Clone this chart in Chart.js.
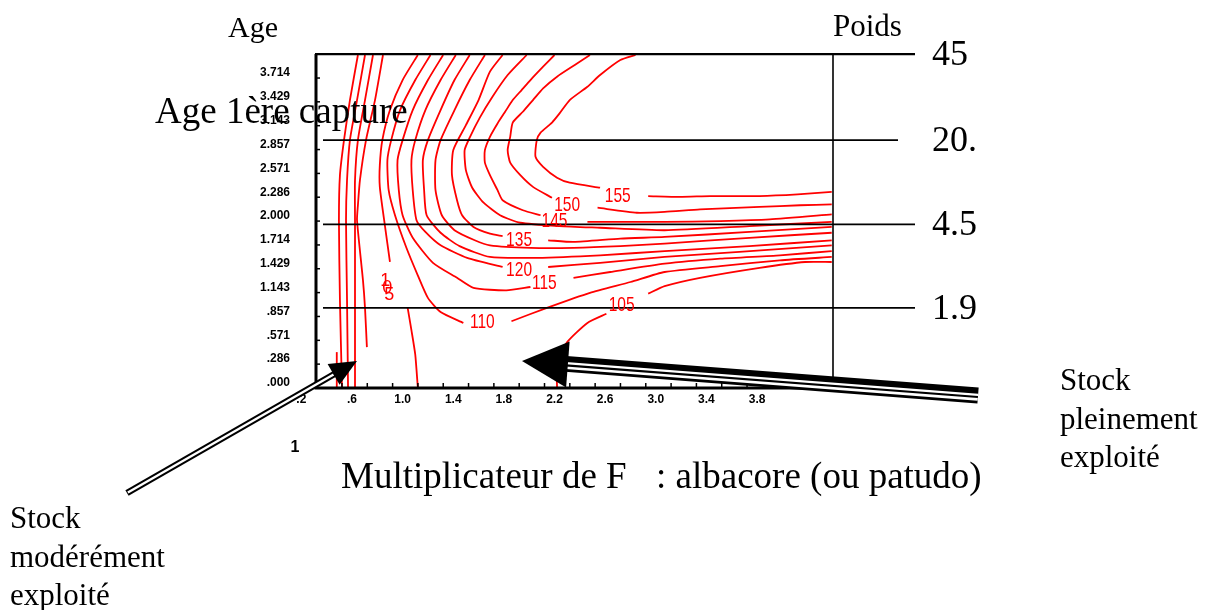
<!DOCTYPE html>
<html lang="fr">
<head>
<meta charset="UTF-8">
<title>Multiplicateur de F : albacore (ou patudo)</title>
<script src="https://cdn.jsdelivr.net/npm/chart.js"></script>
<style>
  body { margin: 0; background: #fff; }
  canvas { display: block; }
</style>
</head>
<body>
<canvas id="isoChart" width="1205" height="610"></canvas>
<script>
// axis ticks
const ageTicks = [0, 0.286, 0.571, 0.857, 1.143, 1.429, 1.714, 2.0, 2.286, 2.571, 2.857, 3.143, 3.429, 3.714];
const fTicks = [0.2, 0.6, 1.0, 1.4, 1.8, 2.2, 2.6, 3.0, 3.4, 3.8];

// weight scale on the right (age -> kg)
const weightLabels = ['45', '20.', '4.5', '1.9'];
const weightAges = [3.94, 2.91, 1.90, 0.90];

// isopleths, [F multiplier, age at first capture]
const lg0 = [[0.48, 0.37], [0.48, -0.05]];
const lg1 = [[0.647, 3.93], [0.584, 3.39], [0.537, 2.91], [0.505, 2.49], [0.497, 1.95], [0.505, 0.99], [0.521, -0.05]];
const lg2 = [[0.703, 3.93], [0.640, 3.39], [0.584, 2.91], [0.561, 2.43], [0.553, 1.95], [0.561, 0.99], [0.569, -0.05]];
const lg3 = [[0.766, 3.93], [0.703, 3.39], [0.647, 2.91], [0.624, 2.43], [0.624, 1.95], [0.624, 0.99], [0.624, -0.05]];
const lg4 = [[0.845, 3.93], [0.782, 3.39], [0.711, 2.91], [0.663, 2.43], [0.647, 2.13], [0.640, 1.95], [0.687, 1.23], [0.703, 0.90], [0.718, 0.43]];

const c105a = [[1.12, 3.93], [1.00, 3.63], [0.90, 3.27], [0.84, 2.91], [0.82, 2.61], [0.82, 2.35], [0.86, 1.89], [0.90, 1.45]];
const c105b = [[1.04, 0.90], [1.07, 0.63], [1.10, 0.34], [1.12, -0.05]];
const c105c = [[2.22, -0.05], [2.22, 0.25], [2.30, 0.49], [2.46, 0.72], [2.61, 0.83]];
const c105d = [[2.94, 1.07], [3.07, 1.16], [3.35, 1.26], [3.82, 1.38], [4.18, 1.45], [4.39, 1.45]];

const c110a = [[1.22, 3.93], [1.10, 3.63], [0.98, 3.27], [0.91, 2.91], [0.88, 2.67], [0.89, 2.31], [0.94, 2.01], [1.03, 1.62], [1.12, 1.29], [1.20, 1.02], [1.30, 0.85], [1.48, 0.72]];
const c110b = [[1.86, 0.74], [2.14, 0.90], [2.48, 1.08], [2.80, 1.21], [3.07, 1.33], [3.51, 1.40], [3.98, 1.47], [4.39, 1.51]];

const c115a = [[1.32, 3.93], [1.20, 3.63], [1.08, 3.27], [1.00, 2.91], [0.96, 2.67], [0.97, 2.31], [1.00, 2.01], [1.08, 1.74], [1.24, 1.44], [1.43, 1.26], [1.56, 1.14], [1.82, 1.11], [2.01, 1.15]];
const c115b = [[2.35, 1.26], [2.64, 1.33], [3.07, 1.43], [3.51, 1.49], [3.98, 1.53], [4.39, 1.58]];

const c120a = [[1.42, 3.93], [1.30, 3.63], [1.18, 3.27], [1.10, 2.91], [1.07, 2.67], [1.08, 2.31], [1.11, 1.95], [1.18, 1.81], [1.30, 1.65], [1.51, 1.50], [1.79, 1.39]];
const c120b = [[2.15, 1.39], [2.56, 1.44], [3.07, 1.51], [3.66, 1.57], [4.39, 1.65]];

const c125 = [[1.53, 3.93], [1.41, 3.63], [1.30, 3.27], [1.20, 2.91], [1.16, 2.67], [1.17, 2.31], [1.19, 2.01], [1.30, 1.80], [1.45, 1.64], [1.69, 1.51], [2.06, 1.50], [2.56, 1.53], [3.07, 1.58], [3.74, 1.64], [4.39, 1.71]];

const c130 = [[1.65, 3.93], [1.53, 3.63], [1.41, 3.27], [1.30, 2.91], [1.26, 2.67], [1.26, 2.31], [1.31, 2.01], [1.41, 1.83], [1.57, 1.71], [1.69, 1.65], [2.01, 1.62], [2.35, 1.62], [2.72, 1.64], [3.07, 1.67], [3.74, 1.74], [4.39, 1.80]];

const c135a = [[1.79, 3.93], [1.69, 3.73], [1.60, 3.39], [1.50, 3.09], [1.40, 2.79], [1.39, 2.49], [1.43, 2.19], [1.47, 2.01], [1.56, 1.87], [1.69, 1.79], [1.79, 1.76]];
const c135b = [[2.15, 1.71], [2.35, 1.69], [2.72, 1.73], [3.07, 1.75], [3.74, 1.81], [4.39, 1.87]];

const c140 = [[1.98, 3.93], [1.83, 3.69], [1.71, 3.43], [1.61, 3.18], [1.53, 2.94], [1.49, 2.79], [1.50, 2.55], [1.55, 2.34], [1.64, 2.16], [1.77, 2.01], [1.93, 1.92], [2.24, 1.88], [2.56, 1.86], [3.07, 1.83], [3.74, 1.88], [4.39, 1.93]];

const c145a = [[2.20, 3.93], [2.11, 3.79], [2.01, 3.63], [1.94, 3.51], [1.87, 3.39], [1.81, 3.25], [1.75, 3.11], [1.69, 2.95], [1.65, 2.79], [1.65, 2.64], [1.69, 2.49], [1.75, 2.31], [1.79, 2.19], [1.95, 2.07], [2.09, 2.01]];
const c145b = [[2.46, 1.93], [2.72, 1.93], [3.07, 1.93], [3.51, 1.94], [3.90, 1.96], [4.39, 2.02]];

const c150a = [[2.48, 3.93], [2.36, 3.81], [2.22, 3.67], [2.11, 3.53], [2.03, 3.39], [1.95, 3.25], [1.87, 3.12], [1.85, 2.95], [1.83, 2.79], [1.85, 2.64], [1.93, 2.49], [2.03, 2.35], [2.18, 2.22]];
const c150b = [[2.54, 2.10], [2.85, 2.04], [3.07, 2.05], [3.35, 2.08], [3.82, 2.11], [4.14, 2.13], [4.39, 2.14]];

const c155a = [[2.84, 3.93], [2.72, 3.87], [2.56, 3.69], [2.46, 3.55], [2.32, 3.39], [2.24, 3.23], [2.18, 3.12], [2.09, 3.00], [2.06, 2.91], [2.05, 2.71], [2.11, 2.59], [2.22, 2.46], [2.32, 2.40], [2.56, 2.34]];
const c155b = [[2.94, 2.24], [3.19, 2.23], [3.43, 2.24], [3.82, 2.24], [4.12, 2.26], [4.39, 2.29]];

// contour labels
const contourLabels = ['155', '150', '145', '135', '120', '115', '110', '105'];
const labelF = [2.70, 2.30, 2.20, 1.92, 1.92, 2.12, 1.63, 2.73];
const labelAge = [2.24, 2.13, 1.94, 1.71, 1.35, 1.20, 0.73, 0.93];
const stackedLabel = { text: '105', f: 0.87, age: 1.12 };

const segments = [lg0, lg1, lg2, lg3, lg4, c105a, c105b, c105c, c105d, c110a, c110b, c115a, c115b,
  c120a, c120b, c125, c130, c135a, c135b, c140, c145a, c145b, c150a, c150b, c155a, c155b];

const datasets = segments.map(seg => ({
  data: seg.map(p => ({ x: p[0], y: p[1] })),
  showLine: true,
  borderColor: '#ff0000',
  borderWidth: 1.8,
  pointRadius: 0,
  tension: 0.2,
  fill: false
}));

function fLabel(v) {
  return v < 1 ? '.' + Math.round(v * 10) : v.toFixed(1);
}
function ageLabel(v) {
  const s = v.toFixed(3);
  return v < 1 ? s.slice(1) : s;
}

function text(ctx, str, x, y, font, align) {
  ctx.font = font;
  ctx.textAlign = align || 'left';
  ctx.textBaseline = 'alphabetic';
  ctx.fillText(str, x, y);
}

function doubleArrow(ctx, x0, y0, x1, y1, headLen, headHalf) {
  const len = Math.hypot(x1 - x0, y1 - y0);
  const ux = (x1 - x0) / len, uy = (y1 - y0) / len;
  const bx = x1 - ux * headLen, by = y1 - uy * headLen;
  ctx.lineCap = 'butt';
  ctx.strokeStyle = '#000';
  ctx.lineWidth = 6.5;
  ctx.beginPath(); ctx.moveTo(x0, y0); ctx.lineTo(bx + ux * 2, by + uy * 2); ctx.stroke();
  ctx.strokeStyle = '#fff';
  ctx.lineWidth = 2.4;
  ctx.beginPath(); ctx.moveTo(x0 + ux, y0 + uy); ctx.lineTo(bx, by); ctx.stroke();
  ctx.fillStyle = '#000';
  ctx.beginPath();
  ctx.moveTo(x1, y1);
  ctx.lineTo(bx - uy * headHalf, by + ux * headHalf);
  ctx.lineTo(bx + uy * headHalf, by - ux * headHalf);
  ctx.closePath(); ctx.fill();
}

function bandArrow(ctx, x0, y0, x1, y1, headLen, headHalf) {
  // tail (x0,y0) -> tip (x1,y1), shaft made of one thick and two thin strokes
  const len = Math.hypot(x1 - x0, y1 - y0);
  const ux = (x1 - x0) / len, uy = (y1 - y0) / len;
  const nx = uy, ny = -ux;
  const bx = x1 - ux * headLen, by = y1 - uy * headLen;
  const strip = (off, w, col) => {
    ctx.strokeStyle = col; ctx.lineWidth = w;
    ctx.beginPath();
    ctx.moveTo(x0 + nx * off, y0 + ny * off);
    ctx.lineTo(bx + nx * off + ux * 2, by + ny * off + uy * 2);
    ctx.stroke();
  };
  ctx.lineCap = 'butt';
  strip(-0.5, 16, '#000');
  strip(-1.2, 2.2, '#fff');
  strip(3.4, 2.6, '#fff');
  ctx.fillStyle = '#000';
  ctx.beginPath();
  ctx.moveTo(x1, y1);
  ctx.lineTo(bx - uy * headHalf, by + ux * headHalf);
  ctx.lineTo(bx + uy * headHalf, by - ux * headHalf);
  ctx.closePath(); ctx.fill();
}

const decor = {
  id: 'decor',
  afterDatasetsDraw(chart) {
    const { ctx, chartArea: a, scales: { x, y } } = chart;
    ctx.save();
    ctx.strokeStyle = '#000';
    ctx.fillStyle = '#000';

    // frame
    ctx.lineWidth = 3;
    ctx.beginPath();
    ctx.moveTo(a.left + 1, a.top); ctx.lineTo(a.left + 1, a.bottom); ctx.lineTo(a.right, a.bottom);
    ctx.stroke();
    ctx.lineWidth = 1.6;
    ctx.beginPath(); ctx.moveTo(a.right, a.top); ctx.lineTo(a.right, a.bottom); ctx.stroke();

    // inward tick marks
    ctx.lineWidth = 1.5;
    ageTicks.forEach(v => {
      const py = y.getPixelForValue(v) + 5;
      ctx.beginPath(); ctx.moveTo(a.left, py); ctx.lineTo(a.left + 5, py); ctx.stroke();
    });
    for (let v = 0.4; v < 4.3; v += 0.2) {
      const px = x.getPixelForValue(v) - 10;
      if (px <= a.left + 2) continue;
      ctx.beginPath(); ctx.moveTo(px, a.bottom); ctx.lineTo(px, a.bottom - 5); ctx.stroke();
    }

    // weight lines and labels
    weightAges.forEach((age, i) => {
      const py = y.getPixelForValue(age);
      ctx.lineWidth = i === 0 ? 2.4 : 1.6;
      ctx.beginPath();
      ctx.moveTo(i === 0 ? a.left : a.left + 8, py);
      ctx.lineTo(i === 1 ? 898 : 915, py);
      ctx.stroke();
      text(ctx, weightLabels[i], 932, py + 11, '36px "Liberation Serif"');
    });

    // contour labels
    ctx.fillStyle = '#ff0000';
    contourLabels.forEach((t, i) => {
      const px = x.getPixelForValue(labelF[i]);
      const py = y.getPixelForValue(labelAge[i]);
      ctx.save();
      ctx.translate(px, py);
      ctx.scale(0.74, 1);
      ctx.font = '21px "Liberation Sans"';
      ctx.textAlign = 'center';
      ctx.textBaseline = 'middle';
      ctx.fillText(t, 0, 0);
      ctx.restore();
    });
    {
      const px = x.getPixelForValue(stackedLabel.f);
      const py = y.getPixelForValue(stackedLabel.age);
      ctx.font = '18px "Liberation Sans"';
      ctx.textAlign = 'center';
      ctx.textBaseline = 'middle';
      [...stackedLabel.text].forEach((ch, k) => ctx.fillText(ch, px - 1 + k * 2, py - 8 + k * 7));
    }

    // titles
    ctx.fillStyle = '#000';
    text(ctx, 'Age', 228, 37, '30px "Liberation Serif"');
    text(ctx, 'Poids', 833, 36, '31px "Liberation Serif"');
    text(ctx, 'Age 1ère capture', 155, 123, '37px "Liberation Serif"');
    text(ctx, 'Multiplicateur de F', 341, 488, '37px "Liberation Serif"');
    text(ctx, ': albacore (ou patudo)', 656, 488, '37px "Liberation Serif"');
    text(ctx, 'Stock', 1060, 390, '31px "Liberation Serif"');
    text(ctx, 'pleinement', 1060, 429, '31px "Liberation Serif"');
    text(ctx, 'exploité', 1060, 467, '31px "Liberation Serif"');
    text(ctx, 'Stock', 10, 528, '31px "Liberation Serif"');
    text(ctx, 'modérément', 10, 567, '31px "Liberation Serif"');
    text(ctx, 'exploité', 10, 605, '31px "Liberation Serif"');
    text(ctx, '1', 295, 452, 'bold 16px "Liberation Sans"', 'center');

    // arrows
    doubleArrow(ctx, 127, 493, 357, 361, 27, 12);
    bandArrow(ctx, 978, 396, 522, 361, 46, 23);

    ctx.restore();
  }
};

new Chart(document.getElementById('isoChart'), {
  type: 'scatter',
  data: { datasets },
  options: {
    responsive: false,
    animation: false,
    events: [],
    layout: { padding: { left: 255, right: 372, top: 54, bottom: 192 } },
    plugins: { legend: { display: false }, tooltip: { enabled: false } },
    scales: {
      x: {
        type: 'linear',
        min: 0.308,
        max: 4.4,
        afterBuildTicks: s => { s.ticks = fTicks.map(v => ({ value: v })); },
        afterFit: s => { s.height = 30; },
        grid: { display: false, drawTicks: false },
        border: { display: false },
        ticks: {
          autoSkip: false,
          maxRotation: 0,
          padding: 4,
          color: '#000',
          font: { family: 'Liberation Sans', weight: 'bold', size: 12 },
          callback: v => fLabel(v)
        }
      },
      y: {
        type: 'linear',
        min: -0.06,
        max: 3.942,
        afterBuildTicks: s => { s.ticks = ageTicks.map(v => ({ value: v })); },
        afterFit: s => { s.width = 60; },
        grid: { display: false, drawTicks: false },
        border: { display: false },
        ticks: {
          autoSkip: false,
          padding: 25,
          color: '#000',
          font: { family: 'Liberation Sans', weight: 'bold', size: 12 },
          callback: v => ageLabel(v)
        }
      }
    }
  },
  plugins: [decor]
});
</script>
</body>
</html>
